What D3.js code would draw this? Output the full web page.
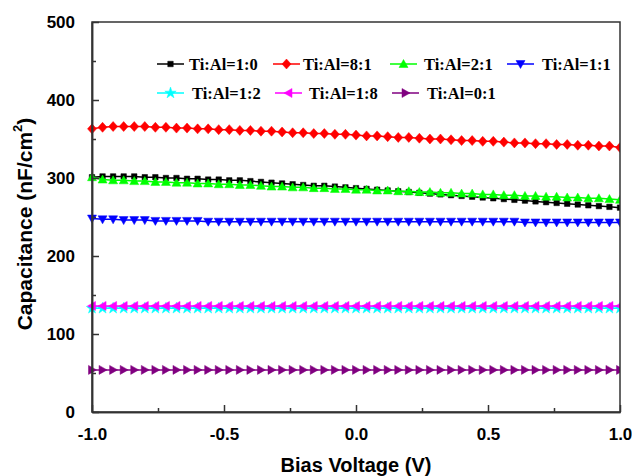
<!DOCTYPE html>
<html><head><meta charset="utf-8">
<script src="https://cdn.jsdelivr.net/npm/d3@7"></script>
<style>body{margin:0;background:#fff;}svg{display:block;}</style>
</head><body>
<svg id="chart" width="632" height="476"></svg>
<script>
const voltage = [-1.00,-0.96,-0.92,-0.88,-0.84,-0.80,-0.76,-0.72,-0.68,-0.64,-0.60,-0.56,-0.52,-0.48,-0.44,-0.40,-0.36,-0.32,-0.28,-0.24,-0.20,-0.16,-0.12,-0.08,-0.04,0.00,0.04,0.08,0.12,0.16,0.20,0.24,0.28,0.32,0.36,0.40,0.44,0.48,0.52,0.56,0.60,0.64,0.68,0.72,0.76,0.80,0.84,0.88,0.92,0.96,1.00];
const seriesNames = ["Ti:Al=1:0","Ti:Al=8:1","Ti:Al=2:1","Ti:Al=1:1","Ti:Al=1:2","Ti:Al=1:8","Ti:Al=0:1"];
const ti1al0 = [301,302,302,302,302,301,301,300,300,299,299,298,298,297,297,296,295,294,293,292,291,290,290,289,288,287,286,285,284,283,282,281,280,279,278,277,276,275,274,273,272,271,270,269,268,267,266,265,264,263,262];
const ti8al1 = [363,365,366,366,366,366,365,365,364,364,363,363,362,362,361,361,360,360,359,358,358,357,357,356,356,355,354,354,353,352,352,351,350,350,349,348,348,347,347,346,345,345,344,344,343,343,342,342,341,341,339];
const ti2al1 = [301,298,297,297,296,296,295,295,294,294,293,293,292,292,291,291,290,289,289,288,288,287,287,286,286,285,285,284,284,283,283,282,282,281,281,280,280,279,279,278,278,277,277,276,276,275,275,274,274,273,272];
const ti1al1 = [248,247,247,246,246,246,245,245,245,245,245,244,244,244,244,244,244,244,244,244,244,244,244,244,244,244,244,244,244,244,244,244,244,244,244,244,244,244,244,244,244,243,243,243,243,243,243,243,243,243,243];
const ti1al2 = [133,133,133,133,133,133,133,133,133,133,133,133,133,133,133,133,133,133,133,133,133,133,133,133,133,133,133,133,133,133,133,133,133,133,133,133,133,133,133,133,133,133,133,133,133,133,133,133,133,133,133];
const ti1al8 = [136,136,136,136,136,136,136,136,136,136,136,136,136,136,136,136,136,136,136,136,136,136,136,136,136,136,136,136,136,136,136,136,136,136,136,136,136,136,136,136,136,136,136,136,136,136,136,136,136,136,136];
const ti0al1 = [54,54,54,54,54,54,54,54,54,54,54,54,54,54,54,54,54,54,54,54,54,54,54,54,54,54,54,54,54,54,54,54,54,54,54,54,54,54,54,54,54,54,54,54,54,54,54,54,54,54,54];
const xTicks = [-1.0,-0.5,0.0,0.5,1.0];
const xTickLabels = ["-1.0","-0.5","0.0","0.5","1.0"];
const yTicks = [0,100,200,300,400,500];

const seriesValues = [ti1al0, ti8al1, ti2al1, ti1al1, ti1al2, ti1al8, ti0al1];
const colors = ["#000000","#ff0000","#00ff00","#0000ff","#00ffff","#ff00ff","#800080"];
const shapes = ["square","diamond","up","down","star","left","right"];

const svg = d3.select("#chart");
const L = 92, R = 620, T = 22, B = 412;
const x = d3.scaleLinear().domain([-1,1]).range([L,R]);
const y = d3.scaleLinear().domain([0,500]).range([B,T]);
const axisColor = "#333";

function markerPath(shape){
  switch(shape){
    case "square": return d3.symbol().type(d3.symbolSquare).size(30)();
    case "diamond": return "M0,-5L4.5,0L0,5L-4.5,0Z";
    case "up": return "M0,-4.5L4.5,3.5L-4.5,3.5Z";
    case "down": return "M0,4.5L4.5,-3.5L-4.5,-3.5Z";
    case "left": return "M-4.5,0L3.5,-4.5L3.5,4.5Z";
    case "right": return "M4.5,0L-3.5,-4.5L-3.5,4.5Z";
    case "star": return d3.symbol().type(d3.symbolStar).size(40)();
  }
}

svg.append("clipPath").attr("id","clip").append("rect")
  .attr("x",L-6).attr("y",T).attr("width",R-L+6).attr("height",B-T);

const plot = svg.append("g").attr("clip-path","url(#clip)");
const line = d3.line().x((d,i)=>x(voltage[i])).y(d=>y(d));
const order = [6,4,5,3,0,2,1];
order.forEach(k=>{
  const g = plot.append("g");
  g.append("path").datum(seriesValues[k]).attr("d",line)
    .attr("fill","none").attr("stroke",colors[k]).attr("stroke-width",1.5);
  g.selectAll("path.m").data(seriesValues[k]).enter().append("path").attr("class","m")
    .attr("d",markerPath(shapes[k]))
    .attr("transform",(d,i)=>`translate(${x(voltage[i])},${y(d)})`)
    .attr("fill",colors[k]).attr("stroke",colors[k]).attr("stroke-width",0.5);
});

svg.append("rect").attr("x",L).attr("y",T).attr("width",R-L).attr("height",B-T)
  .attr("fill","none").attr("stroke",axisColor).attr("stroke-width",1.5);

const xAxis = d3.axisBottom(x).tickValues(xTicks).tickSizeInner(-7).tickSizeOuter(0)
  .tickFormat((d,i)=>xTickLabels[i]).tickPadding(16);
const gx = svg.append("g").attr("transform",`translate(0,${B})`).call(xAxis);
const xMinor = d3.axisBottom(x).tickValues([-0.75,-0.25,0.25,0.75]).tickSizeInner(-4).tickSizeOuter(0).tickFormat("");
const gxm = svg.append("g").attr("transform",`translate(0,${B})`).call(xMinor);
const yAxis = d3.axisLeft(y).tickValues(yTicks).tickSizeInner(-7).tickSizeOuter(0).tickPadding(17);
const gy = svg.append("g").attr("transform",`translate(${L},0)`).call(yAxis);
const yMinor = d3.axisLeft(y).tickValues([50,150,250,350,450]).tickSizeInner(-4).tickSizeOuter(0).tickFormat("");
const gym = svg.append("g").attr("transform",`translate(${L},0)`).call(yMinor);
[gx,gxm,gy,gym].forEach(g=>{
  g.select(".domain").attr("stroke",axisColor).attr("stroke-width",1.5);
  g.selectAll(".tick line").attr("stroke",axisColor).attr("stroke-width",1.5);
  g.selectAll(".tick text").attr("font-family","Liberation Sans, Arial, sans-serif")
    .attr("font-weight","bold").attr("font-size","17px").attr("fill","#000");
});
gx.selectAll(".tick text").attr("dy","0.71em");

svg.append("text").attr("x",(L+R)/2).attr("y",472).attr("text-anchor","middle")
  .attr("font-family","Liberation Sans, Arial, sans-serif").attr("font-weight","bold")
  .attr("font-size","20px").text("Bias Voltage (V)");
const yt = svg.append("text").attr("transform",`translate(32,224) rotate(-90)`)
  .attr("text-anchor","middle")
  .attr("font-family","Liberation Sans, Arial, sans-serif").attr("font-weight","bold")
  .attr("font-size","21px");
yt.append("tspan").text("Capacitance (nF/cm");
yt.append("tspan").attr("font-size","13px").attr("dy","-10").text("2");
yt.append("tspan").attr("dy","10").text(")");

const legendPos = [[157,64],[273,64],[390,64],[507,64],[157,93],[275,93],[392,93]];
const textOff = [32,30,34,35,35,34,35];
seriesNames.forEach((name,k)=>{
  const [lx,ly] = legendPos[k];
  const g = svg.append("g");
  g.append("line").attr("x1",lx).attr("x2",lx+27).attr("y1",ly).attr("y2",ly)
    .attr("stroke",colors[k]).attr("stroke-width",1.5);
  g.append("path").attr("d",markerPath(shapes[k])).attr("transform",`translate(${lx+13.5},${ly})`)
    .attr("fill",colors[k]).attr("stroke",colors[k]).attr("stroke-width",0.5);
  g.append("text").attr("x",lx+textOff[k]).attr("y",ly+6)
    .attr("font-family","Liberation Serif, Times New Roman, serif").attr("font-weight","bold")
    .attr("font-size","16.5px").attr("fill","#000").text(name);
});
</script>
</body></html>
